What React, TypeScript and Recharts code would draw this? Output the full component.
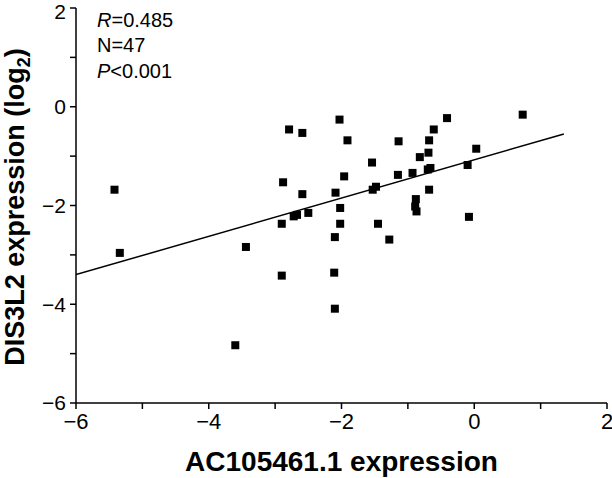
import {
  Scatter,
  ScatterChart,
  XAxis,
  YAxis,
  ZAxis,
} from "recharts";

const xValues = [
  -5.42, -5.34, -3.6, -3.44, -2.9, -2.9, -2.88, -2.79, -2.59, -2.59, -2.72, -2.67,
  -2.5, -2.03, -1.91, -1.96, -2.09, -2.02, -2.02, -2.1, -2.11, -2.1, -1.54, -1.53,
  -1.48, -1.45, -1.28, -1.14, -1.15, -0.93, -0.82, -0.68, -0.61, -0.69, -0.66, -0.68,
  -0.88, -0.89, -0.87, -0.41, -0.1, 0.03, -0.08, 0.73, -0.7,
];
const yValues = [
  -1.68, -2.96, -4.83, -2.84, -3.42, -2.37, -1.53, -0.46, -0.53, -1.77, -2.22, -2.19,
  -2.15, -0.26, -0.68, -1.41, -1.74, -2.05, -2.37, -2.64, -3.36, -4.09, -1.13, -1.68,
  -1.62, -2.37, -2.69, -0.7, -1.38, -1.34, -1.02, -0.68, -0.46, -0.93, -1.24, -1.68,
  -1.87, -2.02, -2.12, -0.23, -1.18, -0.85, -2.23, -0.16, -1.27,
];
const fitX = [-6, 1.35];
const fitY = [-3.4, -0.55];

const axisTicks = [-6, -5, -4, -3, -2, -1, 0, 1, 2];

const points = xValues.map((x, i) => ({ x, y: yValues[i] }));
const fitLine = fitX.map((x, i) => ({ x, y: fitY[i] }));

const FONT = '"Liberation Sans", Arial, sans-serif';

// only even ticks carry a label
const fmt = (v: number) => {
  if (v % 2 !== 0) return "";
  return v < 0 ? `\u2212${Math.abs(v)}` : `${v}`;
};

const Square = (props: any) => (
  <rect x={props.cx - 4} y={props.cy - 4} width={8} height={8} fill="#000" />
);

// y tick text, kept just inside the top edge of the page
const YTick = (props: any) => {
  const { x, y, payload } = props;
  return (
    <text
      x={x}
      y={Math.max(y, 12)}
      dy="0.35em"
      textAnchor="end"
      fill="#000"
      fontSize={21}
      fontFamily={FONT}
    >
      {fmt(payload.value)}
    </text>
  );
};

export default function App() {
  return (
    <div style={{ position: "absolute", left: 0, top: 0, width: 612, height: 478 }}>
      <ScatterChart
        width={612}
        height={478}
        margin={{ top: 8, right: 5, bottom: 0, left: 0 }}
      >
        <XAxis
          type="number"
          dataKey="x"
          domain={[-6, 2]}
          ticks={axisTicks}
          tickFormatter={fmt}
          interval={0}
          allowDataOverflow
          height={75}
          stroke="#000"
          strokeWidth={1.5}
          tickSize={6}
          tickMargin={4}
          tick={{ fill: "#000", fontSize: 22, fontFamily: FONT }}
          label={{
            value: "AC105461.1 expression",
            position: "insideBottom",
            offset: 7,
            fill: "#000",
            fontSize: 28,
            fontWeight: "bold",
            fontFamily: FONT,
          }}
        />
        <YAxis
          type="number"
          dataKey="y"
          domain={[-6, 2]}
          ticks={axisTicks}
          interval={0}
          allowDataOverflow
          width={76}
          stroke="#000"
          strokeWidth={1.5}
          tickSize={6}
          tickMargin={4}
          tick={<YTick />}
        />
        <ZAxis range={[64, 64]} />
        <Scatter
          data={fitLine}
          line={{ stroke: "#000", strokeWidth: 1.5 }}
          shape={() => <g />}
          isAnimationActive={false}
        />
        <Scatter data={points} shape={Square} isAnimationActive={false} />
      </ScatterChart>
      <svg
        width={612}
        height={478}
        style={{ position: "absolute", left: 0, top: 0, pointerEvents: "none" }}
      >
        <text
          x={24}
          y={207}
          transform="rotate(-90, 24, 207)"
          textAnchor="middle"
          fontFamily={FONT}
          fontSize={27}
          fontWeight="bold"
          fill="#000"
        >
          DIS3L2 expression (log
          <tspan fontSize={18} dy={6}>2</tspan>
          <tspan dy={-6}>)</tspan>
        </text>
        <g fontFamily={FONT} fontSize={20} fill="#000">
          <text x={97} y={27}>
            <tspan fontStyle="italic">R</tspan>=0.485
          </text>
          <text x={97} y={52}>N=47</text>
          <text x={97} y={78}>
            <tspan fontStyle="italic">P</tspan>&lt;0.001
          </text>
        </g>
      </svg>
    </div>
  );
}
